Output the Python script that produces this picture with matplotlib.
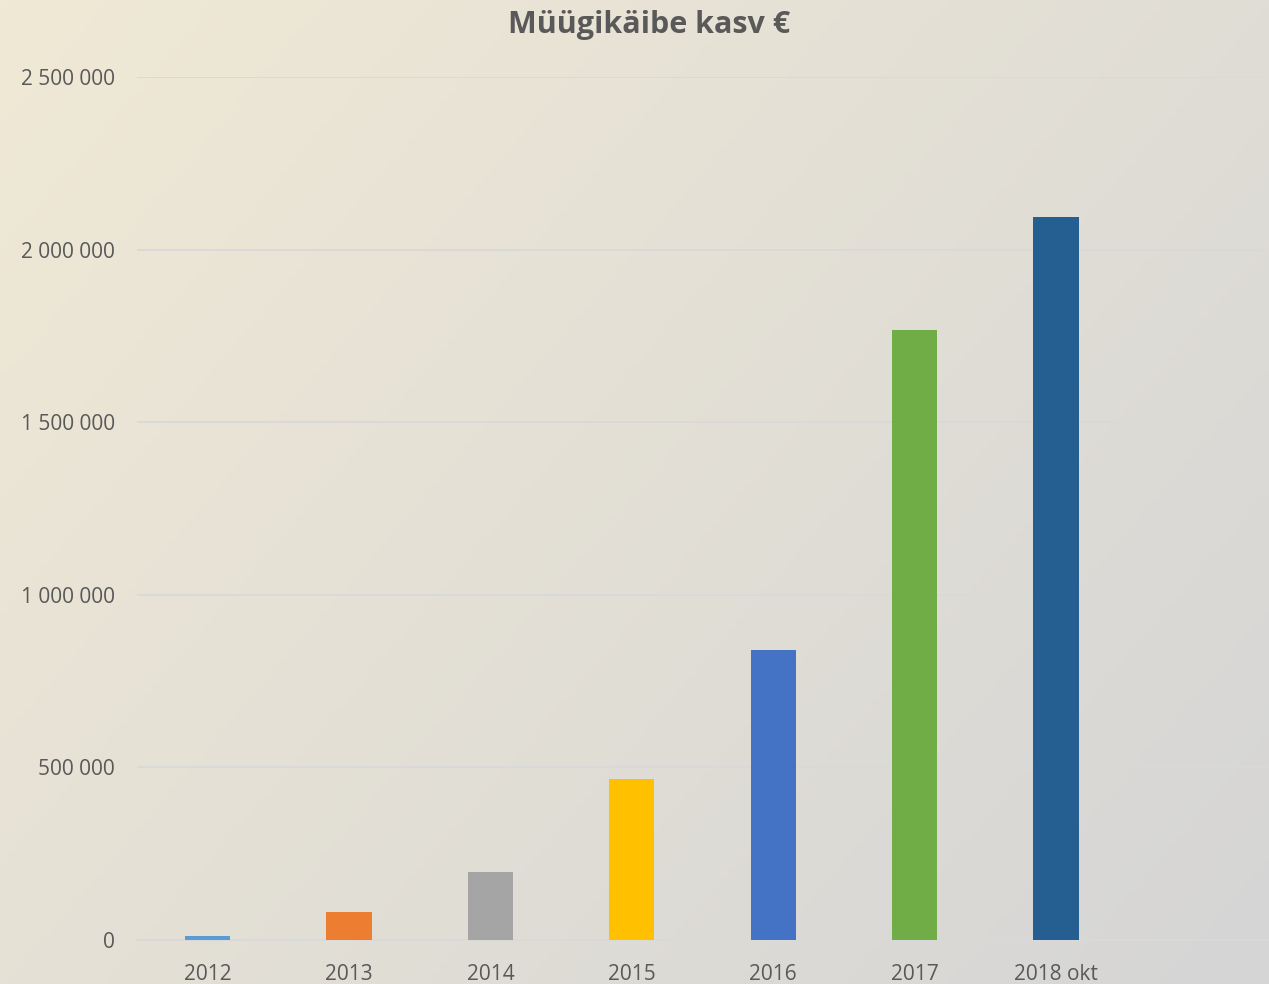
import matplotlib
matplotlib.use('Agg')
import matplotlib.pyplot as plt
import numpy as np
from matplotlib.colors import LinearSegmentedColormap

# sales turnover per year (EUR)
years = ['2012', '2013', '2014', '2015', '2016', '2017', '2018 okt']
sales = [12000, 81000, 197000, 466000, 840000, 1767000, 2094000]
colors = ['#5B9BD5', '#ED7D31', '#A5A5A5', '#FFC000', '#4472C4', '#70AD47', '#255E91']
yticks = [0, 500000, 1000000, 1500000, 2000000, 2500000]

plt.rcParams['font.family'] = ['Open Sans', 'DejaVu Sans']

fig = plt.figure(figsize=(12.69, 9.84), dpi=100)

# diagonal background gradient, cream top-left to grey bottom-right
bg = fig.add_axes([0, 0, 1, 1], zorder=-1)
gx, gy = np.meshgrid(np.linspace(0, 1, 300), np.linspace(0, 1, 300))
grad = (gx * 0.6 + gy * 0.4)
cmap = LinearSegmentedColormap.from_list('bg', ['#F0E9D5', '#D5D5D5'])
bg.imshow(grad, cmap=cmap, aspect='auto', extent=[0, 1, 0, 1], origin='upper')
bg.axis('off')

ax = fig.add_axes([137 / 1269, 44 / 984, 1131 / 1269, 863 / 984])
ax.patch.set_alpha(0)

x = np.arange(len(years))
ax.bar(x, sales, width=0.32, color=colors, zorder=3)

ax.set_xlim(-0.5, 7.5)
ax.set_ylim(0, 2500000)
ax.set_yticks(yticks)
ax.set_yticklabels([f'{v:,}'.replace(',', ' ') for v in yticks])
ax.set_xticks(x)
ax.set_xticklabels(years)
ax.tick_params(axis='both', length=0, labelsize=15, labelcolor='#595959')
ax.tick_params(axis='y', pad=16)
ax.tick_params(axis='x', pad=17)
ax.grid(axis='y', color='#D9D9D9', linewidth=1.4, zorder=0)
for s in ['top', 'right', 'left']:
    ax.spines[s].set_visible(False)
ax.spines['bottom'].set_color('#D9D9D9')
ax.spines['bottom'].set_linewidth(1.4)

fig.text(649 / 1269, 1 - 25 / 984, 'Müügikäibe kasv €', ha='center', va='center',
         fontsize=22, fontweight='bold', color='#595959')

fig.savefig('out.png', dpi=100)
